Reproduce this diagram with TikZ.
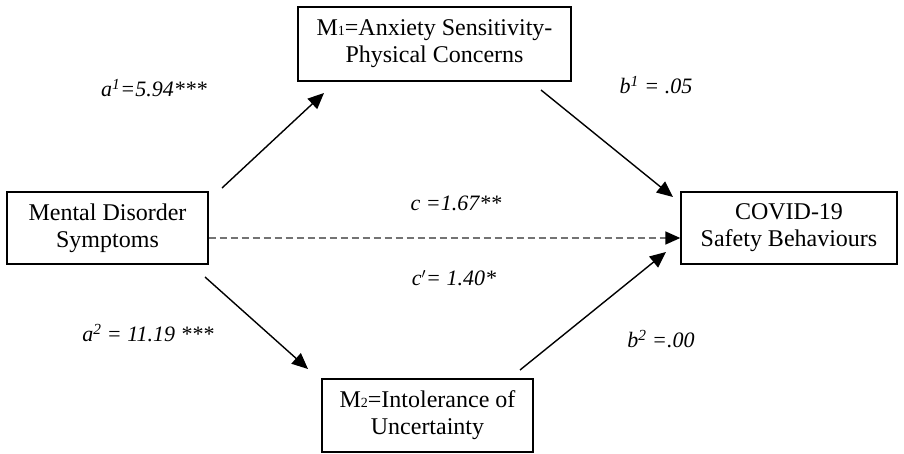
\documentclass[tikz,border=0pt]{standalone}
\usepackage{fontspec}
\setmainfont{Liberation Serif}
\usetikzlibrary{arrows.meta}
\begin{document}
\begin{tikzpicture}[x=1pt,y=-1pt,
  box/.style={draw, line width=1.4pt, align=center, inner sep=0pt,
    font=\fontsize{24}{27}\selectfont},
  lab/.style={inner sep=0pt, font=\fontsize{22}{26}\selectfont\itshape},
  arr/.style={line width=1.4pt, -{Triangle[length=16pt,width=14pt]}},
  dashedarr/.style={line width=1.6pt, draw=black!55, dash pattern=on 7pt off 4pt,
    -{Triangle[length=15pt,width=13pt,color=black]}}
]
\useasboundingbox (0,0) rectangle (904,453);

\node[box, minimum width=273pt, minimum height=74pt] (m1) at (434.5,44)
  {M{\fontsize{14}{14}\selectfont 1}=Anxiety Sensitivity-\\Physical Concerns};
\node[box, minimum width=201pt, minimum height=72pt] (md) at (107.5,228)
  {Mental Disorder\\Symptoms};
\node[box, minimum width=216pt, minimum height=72pt] (cv) at (789,228)
  {COVID-19\\Safety Behaviours};
\node[box, minimum width=211pt, minimum height=73pt] (m2) at (427.5,415.5)
  {M{\fontsize{14}{14}\selectfont 2}=Intolerance of\\Uncertainty};

\coordinate (a1s) at (222,188);
\coordinate (a1e) at (324,93);
\coordinate (b1s) at (541,90);
\coordinate (b1e) at (673,197);
\coordinate (a2s) at (205,277);
\coordinate (a2e) at (308,369);
\coordinate (b2s) at (520,370);
\coordinate (b2e) at (666,252);

\draw[arr] (a1s) -- (a1e);
\draw[arr] (b1s) -- (b1e);
\draw[arr] (a2s) -- (a2e);
\draw[arr] (b2s) -- (b2e);
\draw[dashedarr] ([yshift=-10pt]md.east) -- ([yshift=-10pt]cv.west);

\node[lab] (la1) at (154,88) {a\textsuperscript{1}=5.94***};
\node[lab] (lb1) at (656,85) {b\textsuperscript{1} = .05};
\node[lab] (lc) at (456,203) {c =1.67**};
\node[lab] (lcp) at (454,278) {c$^{\prime}$= 1.40*};
\node[lab] (la2) at (148,333) {a\textsuperscript{2} = 11.19 ***};
\node[lab] (lb2) at (661,339) {b\textsuperscript{2} =.00};
\end{tikzpicture}
\end{document}
